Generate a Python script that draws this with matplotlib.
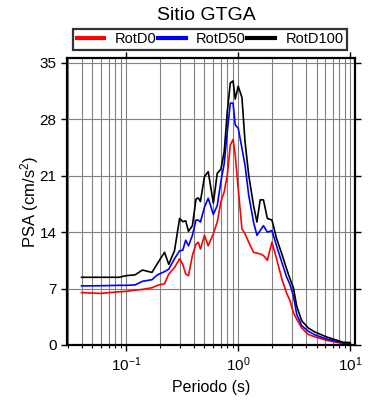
import numpy as np
import matplotlib
matplotlib.use("Agg")
import matplotlib.pyplot as plt
from matplotlib.ticker import LogLocator, NullFormatter

plt.rcParams['font.family'] = ['Liberation Sans', 'DejaVu Sans']
plt.rcParams['mathtext.fontset'] = 'custom'
plt.rcParams['mathtext.rm'] = 'Liberation Sans'
plt.rcParams['mathtext.it'] = 'Liberation Sans'

# periodos (s)
T = [0.040, 0.059, 0.086, 0.10, 0.12, 0.14, 0.17, 0.19, 0.22, 0.24, 0.27,
     0.30, 0.32, 0.34, 0.36, 0.39, 0.42, 0.44, 0.46, 0.50, 0.54, 0.60,
     0.65, 0.70, 0.75, 0.80, 0.85, 0.90, 0.94, 1.0, 1.08, 1.15, 1.24,
     1.37, 1.47, 1.57, 1.68, 1.82, 2.0, 2.2, 2.45, 2.71, 2.9, 3.11,
     3.33, 3.69, 4.23, 4.85, 6.15, 7.55, 8.66, 10.0]

rotd0 = [6.5, 6.4, 6.6, 6.65, 6.8, 6.9, 7.1, 7.4, 7.6, 8.8, 9.6,
         10.7, 10.0, 8.8, 8.6, 11.1, 12.5, 12.75, 11.9, 13.6, 12.3, 13.8,
         15.25, 17.75, 19.0, 21.1, 24.8, 25.5, 23.6, 19.4, 14.4, 13.8, 12.75,
         11.5, 11.4, 11.3, 11.1, 10.5, 12.75, 10.7, 8.2, 6.4, 5.5, 4.0,
         3.2, 2.1, 1.3, 1.0, 0.58, 0.33, 0.2, 0.1]

rotd50 = [7.33, 7.35, 7.4, 7.4, 7.45, 7.9, 8.1, 8.7, 9.1, 9.4, 10.7,
          11.7, 11.75, 13.0, 12.3, 13.6, 15.5, 15.5, 15.25, 17.1, 18.2, 16.2,
          17.3, 20.25, 22.5, 26.5, 30.0, 30.0, 27.3, 26.9, 24.4, 22.3, 18.6,
          15.25, 13.6, 14.2, 14.8, 14.0, 14.2, 12.3, 10.25, 8.4, 7.5, 6.1,
          3.8, 2.4, 1.7, 1.25, 0.75, 0.46, 0.25, 0.17]

rotd100 = [8.4, 8.4, 8.4, 8.6, 8.7, 9.3, 9.0, 10.1, 11.5, 10.0, 11.7,
           15.7, 15.3, 15.4, 14.1, 14.8, 18.1, 18.25, 17.8, 20.9, 21.5, 17.6,
           21.3, 21.8, 24.0, 29.0, 32.5, 32.75, 30.5, 32.1, 30.7, 25.25, 21.1,
           17.3, 15.25, 18.0, 18.0, 15.7, 15.5, 13.2, 11.3, 9.4, 8.2, 7.1,
           4.8, 3.0, 2.1, 1.6, 1.0, 0.6, 0.33, 0.3]

fig = plt.figure(figsize=(3.9, 4.0), dpi=100)
ax = fig.add_axes([0.172, 0.1375, 0.738, 0.7175])

ax.plot(T, rotd0, color='red', lw=1.2, label='RotD0')
ax.plot(T, rotd50, color='blue', lw=1.2, label='RotD50')
ax.plot(T, rotd100, color='black', lw=1.2, label='RotD100')

ax.set_xscale('log')
ax.set_xlim(0.0297, 11.0)
ax.set_ylim(0, 35.6)
ax.set_yticks([0, 7, 14, 21, 28, 35])
ax.xaxis.set_major_locator(LogLocator(base=10))
ax.xaxis.set_minor_locator(LogLocator(base=10, subs=np.arange(2, 10)))
ax.xaxis.set_minor_formatter(NullFormatter())

ax.grid(True, which='both', axis='x', color='#808080', lw=0.8)
ax.grid(True, which='major', axis='y', color='#808080', lw=0.8)
ax.set_axisbelow(True)

ax.tick_params(which='major', direction='out', length=4, width=1.0,
               top=True, right=True, labelsize=11)
ax.tick_params(which='minor', direction='out', length=2, width=0.8,
               top=False, bottom=True)
for s in ax.spines.values():
    s.set_linewidth(1.6)

ax.set_xlabel('Periodo (s)', fontsize=11.5, labelpad=4)
ax.set_ylabel('PSA (cm/s$^2$)', fontsize=12, labelpad=-1)

fig.text(0.53, 0.962, 'Sitio GTGA', ha='center', va='center', fontsize=14)

leg = fig.legend(loc='lower left', bbox_to_anchor=(0.187, 0.875, 0.703, 0.055),
                 mode='expand', ncol=3, frameon=True, fancybox=False,
                 fontsize=10.5, handlelength=1.9, handletextpad=0.7,
                 borderpad=0.25, borderaxespad=0)
leg.get_frame().set_edgecolor('black')
leg.get_frame().set_linewidth(1.6)
for h in leg.get_lines():
    h.set_linewidth(3)

fig.savefig('out.png', dpi=100)
